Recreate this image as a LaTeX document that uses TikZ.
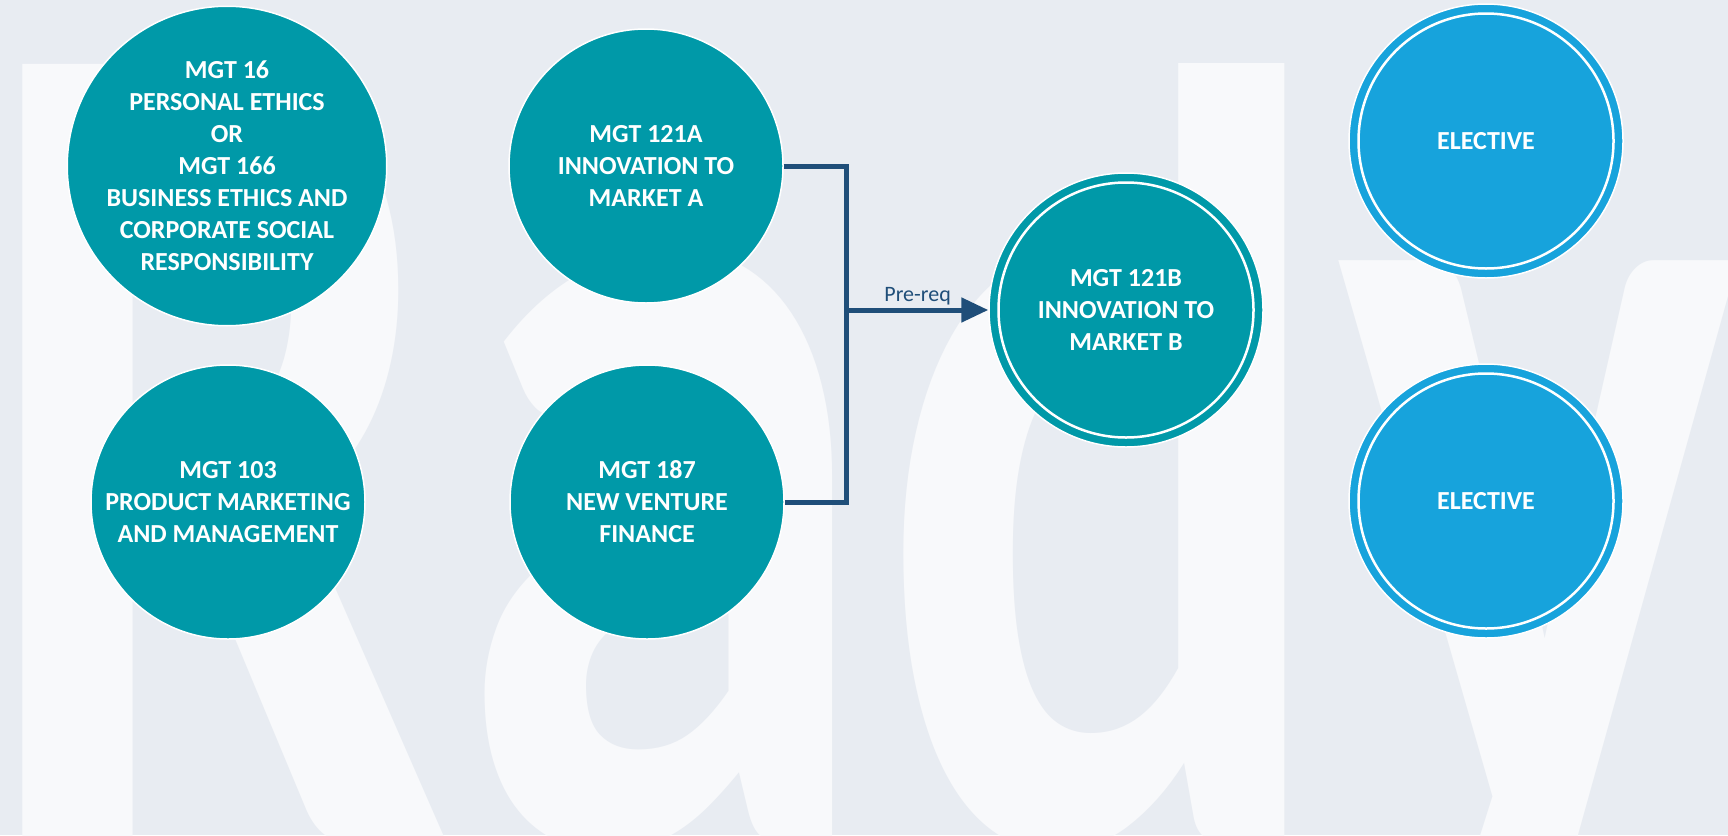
\documentclass[tikz,border=0pt]{standalone}
\usepackage{fontspec}
\usepackage{graphicx}
\setmainfont{Carlito}
\usetikzlibrary{arrows.meta}
\definecolor{bgc}{RGB}{232,236,242}
\definecolor{wmc}{RGB}{248,249,251}
\definecolor{tealc}{RGB}{0,153,168}
\definecolor{bluec}{RGB}{23,163,220}
\definecolor{navyc}{RGB}{31,78,121}
\tikzset{
 course/.style={circle, minimum size=274pt, inner sep=0pt, fill=tealc, draw=white, line width=1.5pt, text=white, font=\bfseries\fontsize{26}{32}\selectfont, align=center},
 elective/.style={course, fill=bluec},
 ringline/.style={draw=white, line width=2.5pt},
 conn/.style={draw=navyc, line width=5pt, line join=miter},
 lbl/.style={text=navyc, font=\fontsize{22}{26}\selectfont, inner sep=2pt}
}
\begin{document}
\begin{tikzpicture}[x=1pt,y=-1pt]
\fill[bgc] (0,0) rectangle (1728,835);
\useasboundingbox (0,0) rectangle (1728,835);
\begin{scope}
\clip (0,0) rectangle (1100,835) (1090,63) rectangle (1728,835);
\node[anchor=base west, inner sep=0pt, text=wmc, font=\bfseries\fontsize{1200}{1200}\selectfont] (wm) at (-27,842) {\scalebox{0.713}[1]{Rady}};
\end{scope}
\node[course] (c1) at (227,166) {MGT 16\\PERSONAL ETHICS\\OR\\MGT 166\\BUSINESS ETHICS AND\\CORPORATE SOCIAL\\RESPONSIBILITY};
\node[course] (c2) at (646,166) {MGT 121A\\INNOVATION TO\\MARKET A};
\node[course] (c3) at (228,502) {MGT 103\\PRODUCT MARKETING\\AND MANAGEMENT};
\node[course] (c4) at (647,502) {MGT 187\\NEW VENTURE\\FINANCE};
\node[course] (c5) at (1126,310) {MGT 121B\\INNOVATION TO\\MARKET B};
\node[elective] (e1) at (1486,141) {ELECTIVE};
\node[elective] (e2) at (1486,501) {ELECTIVE};
\draw[ringline] (c5.center) circle[radius=127.5pt];
\draw[ringline] (e1.center) circle[radius=127.5pt];
\draw[ringline] (e2.center) circle[radius=127.5pt];
\coordinate (j) at (847,310);
\draw[conn] (c2.east) -- ++(63,0) |- (c4.east);
\draw[conn, -{Triangle[length=27pt, width=24pt]}] (j) -- (c5.west) node[lbl, midway, above] (pr) {Pre-req};
\end{tikzpicture}
\end{document}
